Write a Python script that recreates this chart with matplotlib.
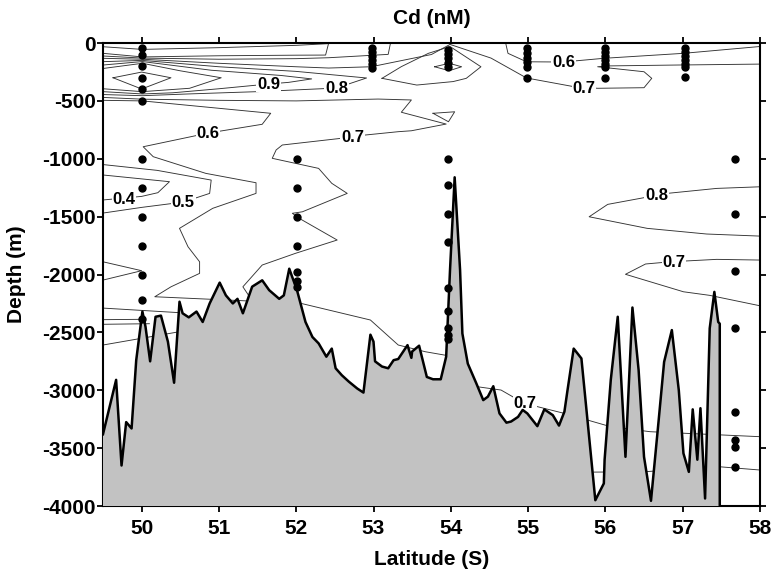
import numpy as np
import matplotlib.pyplot as plt

plt.rcParams['font.family'] = ['Liberation Sans', 'DejaVu Sans']
plt.rcParams['font.weight'] = 'bold'
plt.rcParams['axes.unicode_minus'] = False

# Bathymétrie le long de la section (latitude S, profondeur en m)
bathy_lat = [49.50, 49.67, 49.74, 49.80, 49.87, 49.93, 50.01, 50.05, 50.11, 50.18,
             50.25, 50.34, 50.42, 50.49, 50.53, 50.61, 50.71, 50.79, 50.88, 51.01,
             51.09, 51.18, 51.24, 51.31, 51.43, 51.56, 51.65, 51.78, 51.84, 51.91,
             52.01, 52.12, 52.21, 52.29, 52.39, 52.46, 52.51, 52.59, 52.68, 52.79,
             52.87, 52.96, 53.00, 53.02, 53.11, 53.19, 53.26, 53.32, 53.44, 53.49,
             53.50, 53.59, 53.69, 53.77, 53.87, 53.94, 53.99, 54.05, 54.12, 54.15,
             54.22, 54.33, 54.42, 54.48, 54.55, 54.63, 54.72, 54.78, 54.87, 54.93,
             54.99, 55.12, 55.21, 55.32, 55.40, 55.47, 55.51, 55.59, 55.69, 55.87,
             55.98, 55.99, 56.07, 56.16, 56.26, 56.35, 56.43, 56.50, 56.59, 56.69,
             56.76, 56.86, 56.95, 57.01, 57.08, 57.13, 57.19, 57.23, 57.29, 57.35,
             57.41, 57.46, 57.48, 57.48]
bathy_dep = [-3380, -2910, -3650, -3275, -3330, -2740, -2320, -2450, -2750, -2365,
             -2355, -2580, -2935, -2235, -2335, -2370, -2320, -2410, -2250, -2070,
             -2180, -2250, -2210, -2335, -2105, -2050, -2135, -2210, -2180, -1950,
             -2135, -2410, -2540, -2595, -2710, -2640, -2810, -2870, -2925, -2985,
             -3020, -2520, -2580, -2750, -2795, -2810, -2740, -2730, -2610, -2720,
             -2665, -2615, -2885, -2905, -2905, -2710, -1960, -1160, -1960, -2510,
             -2770, -2940, -3085, -3055, -2965, -3200, -3280, -3270, -3230, -3170,
             -3200, -3310, -3165, -3215, -3305, -3185, -3000, -2640, -2725, -3950,
             -3805, -3600, -2910, -2365, -3575, -2285, -2825, -3575, -3955, -3255,
             -2755, -2480, -3000, -3545, -3705, -3165, -3600, -3155, -3935, -2465,
             -2150, -2410, -2425, -4000]

# Stations et profondeurs des prélèvements
prof_50 = [-40, -100, -200, -300, -400, -500, -1000, -1250, -1500, -1750, -2000, -2220, -2380]
prof_52 = [-1000, -1250, -1500, -1750, -1975, -2060, -2110]
prof_53 = [-45, -80, -115, -150, -185, -215]
prof_54 = [-60, -95, -130, -170, -205, -1000, -1230, -1480, -1720, -2120, -2315, -2465, -2520, -2560]
prof_55 = [-45, -90, -125, -160, -205, -305]
prof_56 = [-45, -80, -115, -150, -185, -210, -305]
prof_57 = [-45, -80, -115, -150, -185, -205, -290]
prof_577 = [-1000, -1480, -1970, -2465, -3185, -3430, -3490, -3665]
stations = [(50.01, prof_50), (52.01, prof_52), (52.98, prof_53), (53.97, prof_54),
            (54.98, prof_55), (56.0, prof_56), (57.03, prof_57), (57.68, prof_577)]

# Isolignes de Cd (latitude, profondeur)
iso_u1 = [(49.5, -32), (50.01, -55), (51.0, -40), (52.0, -20), (52.42, -5)]
iso_u2 = [(49.5, -89), (50.01, -120), (51.0, -110), (52.0, -105), (52.38, -104), (52.42, 0)]
iso_u3 = [(49.5, -112), (50.01, -130), (51.0, -140), (52.0, -135), (52.42, -127), (53.19, -98), (53.22, 0)]
iso_07_haut = [(49.5, -132), (50.01, -140), (51.0, -175), (52.0, -205), (52.42, -216), (52.97, -205),
               (53.75, -99), (53.99, -12), (54.52, -130), (54.98, -302), (55.60, -378), (55.90, -391),
               (56.50, -386), (56.60, -305), (56.50, -248), (55.90, -205), (56.0, -198), (56.93, -190),
               (58.0, -182)]
iso_08 = [(49.5, -161), (50.01, -150), (51.0, -205), (52.0, -245), (52.91, -302), (52.52, -389),
          (51.5, -420), (50.6, -440), (50.01, -455), (49.5, -445)]
iso_09 = [(49.5, -190), (50.01, -160), (50.9, -235), (51.8, -280), (52.2, -310), (51.9, -340),
          (51.64, -354), (51.0, -395), (50.4, -430), (50.01, -440), (49.5, -420)]
iso_10 = [(49.5, -220), (50.01, -175), (50.5, -240), (51.03, -300), (50.62, -391), (50.01, -420), (49.5, -395)]
iso_11 = [(49.63, -300), (50.0, -251), (50.38, -300), (50.0, -397), (49.63, -300)]
iso_boucle = [(53.11, -305), (53.36, -204), (53.71, -89), (53.99, -30), (54.39, -205), (54.20, -305),
              (54.03, -333), (53.56, -363), (53.11, -305)]
iso_losange = [(53.79, -205), (53.98, -175), (54.14, -205), (53.98, -239), (53.79, -205)]
iso_triangle = [(53.77, -607), (54.05, -594), (53.97, -680), (53.77, -607)]
iso_07_mil = [(49.5, -470), (50.01, -485), (51.0, -495), (52.0, -500), (53.06, -484), (53.49, -492),
              (53.36, -598), (53.94, -700), (53.49, -758), (53.32, -766), (52.89, -795), (52.73, -812),
              (51.82, -881), (51.74, -924), (51.69, -996), (52.29, -1083), (52.46, -1212), (52.66, -1299),
              (52.08, -1458), (51.95, -1471), (52.04, -1515), (52.53, -1702), (51.99, -1817),
              (51.56, -1918), (51.31, -2106), (51.39, -2186)]
iso_06 = [(49.5, -495), (50.01, -500), (51.67, -607), (51.56, -702), (50.86, -778), (50.02, -896),
          (50.15, -982), (50.83, -1126), (51.48, -1207), (51.48, -1299), (50.92, -1428), (50.49, -1601),
          (50.60, -1760), (50.75, -1890), (50.75, -1990), (50.38, -2106), (50.17, -2192), (52.06, -2249),
          (52.96, -2393), (53.32, -2609), (53.67, -2667), (53.92, -2696)]
iso_05 = [(49.5, -1050), (50.2, -1100), (50.90, -1184), (50.88, -1299), (50.54, -1374), (50.0, -1420), (49.5, -1469)]
iso_04 = [(49.5, -1140), (50.36, -1198), (50.21, -1293), (50.0, -1325), (49.5, -1356)]
iso_05_bas = [(49.5, -1890), (50.0, -1967), (49.5, -2048)]
iso_g1 = [(49.5, -2290), (50.5, -2330)]
iso_g2 = [(49.5, -2390), (50.01, -2387)]
iso_g3 = [(49.5, -2430), (50.1, -2425)]
iso_g4 = [(49.5, -2609), (50.49, -2494)]
iso_06_droite = [(54.71, 0), (54.74, -89), (54.98, -162), (55.45, -164), (55.98, -132), (57.01, -89), (58.0, -30)]
iso_08_droite = [(58.0, -1242), (57.44, -1256), (56.80, -1299), (56.03, -1394), (55.79, -1501),
                 (56.54, -1601), (57.31, -1650), (58.0, -1668)]
iso_07_droite = [(58.0, -1875), (57.44, -1869), (56.84, -1890), (56.52, -1909), (56.26, -1998),
                 (57.01, -2149), (57.35, -2180), (58.0, -2270)]
iso_07_bas = [(54.25, -2960), (54.35, -2970), (54.65, -2998), (54.95, -3113), (55.47, -3200),
              (56.07, -3315), (56.58, -3358), (58.0, -3401)]
iso_fond = [(55.85, -3707), (56.50, -3704), (57.48, -3661), (58.0, -3689)]

isolignes = [iso_u1, iso_u2, iso_u3, iso_07_haut, iso_08, iso_09, iso_10, iso_11, iso_boucle,
             iso_losange, iso_triangle, iso_07_mil, iso_06, iso_05, iso_04, iso_05_bas,
             iso_g1, iso_g2, iso_g3, iso_g4, iso_06_droite, iso_08_droite, iso_07_droite,
             iso_07_bas, iso_fond]

# Etiquettes des isolignes
lab_txt = ['0.9', '0.8', '0.6', '0.7', '0.4', '0.5', '0.6', '0.7', '0.8', '0.7', '0.7']
lab_lat = [51.64, 52.52, 50.86, 52.73, 49.77, 50.54, 55.46, 55.72, 56.66, 56.89, 54.96]
lab_dep = [-354, -389, -778, -812, -1348, -1374, -164, -397, -1313, -1892, -3110]


fig = plt.figure(figsize=(7.72, 5.73), dpi=100)
ax = fig.add_axes([0.1334, 0.1169, 0.8510, 0.808])

for ligne in isolignes:
    pts = np.array(ligne)
    ax.plot(pts[:, 0], pts[:, 1], color="#333333", linewidth=0.65, zorder=1)

for t, x, y in zip(lab_txt, lab_lat, lab_dep):
    ax.text(x, y, t, fontsize=12, fontweight="bold", ha="center", va="center", zorder=2,
            bbox=dict(facecolor="white", edgecolor="none", pad=0.5))

# Fond marin
ax.fill(bathy_lat + [49.5], bathy_dep + [-4000], facecolor="#c2c2c2", edgecolor="none", zorder=3)
ax.plot(bathy_lat, bathy_dep, color="black", linewidth=1.8, zorder=4)

for lat, prof in stations:
    ax.plot([lat] * len(prof), prof, "o", color="black", markersize=5, zorder=5)

ax.set_xlim(49.5, 58)
ax.set_ylim(-4000, 0)
ax.set_xticks(range(50, 59))
ax.set_yticks(range(-4000, 1, 500))
ax.tick_params(direction="out", length=4, width=1.3, labelsize=15, top=True, right=True)
ax.tick_params(axis="y", pad=1)
ax.tick_params(axis="x", pad=5)
for s in ax.spines.values():
    s.set_linewidth(1.5)

ax.set_title("Cd (nM)", fontsize=15, fontweight="bold", pad=14)
ax.set_xlabel("Latitude (S)", fontsize=15, fontweight="bold", labelpad=9)
ax.set_ylabel("Depth (m)", fontsize=15, fontweight="bold", labelpad=12)

plt.savefig("out.png", dpi=100)
